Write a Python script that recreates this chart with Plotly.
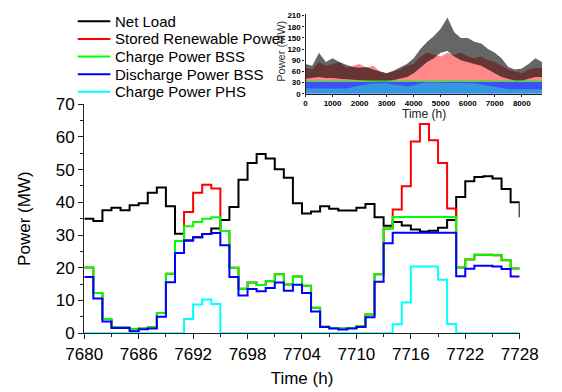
import plotly.graph_objects as go

# ---- main panel: hourly values, 7680 h .. 7728 h ----
hours = list(range(7680, 7729))

net_load = [35.0, 34.3, 37.6, 38.3, 37.6, 39.1, 39.7, 42.9, 44.5, 38.8,
            30.4, 28.3, 29.3, 30.3, 32.0, 34.6, 38.6, 46.9, 52.0, 54.8,
            53.4, 50.1, 47.5, 39.7, 36.6, 37.2, 38.8, 38.0, 37.5, 37.5,
            38.3, 39.5, 35.4, 32.8, 34.0, 32.9, 31.7, 31.1, 31.3, 32.2,
            34.6, 41.6, 46.4, 47.7, 48.0, 47.3, 44.1, 40.0, 35.4]

stored_renewable = [20.1, 12.3, 4.3, 1.8, 1.7, 1.2, 1.4, 1.8, 6.2, 18.2,
                    28.2, 37.0, 42.9, 45.4, 44.2, 31.2, 20.0, 13.6, 15.5, 14.7,
                    15.9, 18.0, 14.9, 17.3, 14.5, 7.8, 2.0, 1.6, 1.4, 1.6,
                    2.1, 5.7, 18.0, 32.0, 37.8, 44.9, 58.6, 63.9, 59.0, 52.0,
                    38.1, 20.1, 22.5, 24.0, 24.0, 23.8, 22.3, 19.8, 19.8]

charge_bss = [20.1, 12.3, 4.3, 1.8, 1.7, 1.2, 1.4, 1.8, 6.2, 18.2,
              28.2, 32.7, 34.0, 35.0, 35.4, 31.2, 20.0, 13.6, 15.5, 14.7,
              15.9, 18.0, 14.9, 17.3, 14.5, 7.8, 2.0, 1.6, 1.4, 1.6,
              2.1, 5.7, 18.0, 32.0, 35.5, 35.5, 35.5, 35.5, 35.5, 35.5,
              35.5, 20.1, 22.5, 24.0, 24.0, 23.8, 22.3, 19.8, 19.8]

discharge_bss = [17.2, 10.6, 3.6, 1.6, 1.6, 0.6, 1.2, 1.4, 5.0, 15.6,
                 24.5, 28.3, 29.3, 30.3, 30.6, 26.9, 17.2, 11.5, 13.5, 12.8,
                 13.8, 15.5, 13.0, 14.8, 12.3, 6.6, 1.9, 1.4, 1.1, 1.4,
                 1.9, 4.9, 15.7, 27.5, 30.7, 30.7, 30.7, 30.7, 30.7, 30.7,
                 30.7, 17.4, 19.7, 20.6, 20.6, 20.4, 19.6, 17.3, 17.3]

charge_phs = [0, 0, 0, 0, 0, 0, 0, 0, 0, 0,
              0, 4.3, 8.8, 10.3, 8.9, 0, 0, 0, 0, 0,
              0, 0, 0, 0, 0, 0, 0, 0, 0, 0,
              0, 0, 0, 0, 2.7, 9.4, 20.4, 20.4, 20.4, 16.3,
              2.8, 0, 0, 0, 0, 0, 0, 0, 0]

series_names = ["Net Load", "Stored Renewable Power", "Charge Power BSS",
                "Discharge Power BSS", "Charge Power PHS"]
series_colors = ["#000000", "#ff0000", "#00ff00", "#0000ff", "#00ffff"]

x_ticks = list(range(7680, 7729, 6))
y_ticks = list(range(0, 71, 10))

# ---- inset: yearly envelopes (min / max) every 250 h ----
year_hours = list(range(0, 8751, 250))
load_hi = [80, 75, 110, 85, 95, 85, 78, 72, 70, 72, 65, 60, 55, 62, 70, 80, 95, 120,
           140, 155, 175, 205, 165, 150, 150, 140, 135, 120, 110, 95, 72, 65, 68, 80, 95, 85]
load_lo = [40, 42, 45, 42, 42, 40, 38, 36, 35, 34, 33, 32, 32, 35, 40, 45, 55, 70,
           85, 95, 110, 115, 100, 90, 85, 80, 75, 65, 55, 45, 40, 35, 35, 40, 45, 45]
renew_hi = [70, 65, 85, 75, 80, 85, 70, 75, 80, 70, 75, 60, 55, 60, 65, 75, 80, 100,
            110, 105, 100, 110, 105, 110, 100, 95, 100, 90, 85, 75, 65, 60, 55, 65, 70, 70]
renew_lo = [33, 33, 33, 33, 33, 33, 33, 33, 33, 33, 33, 33, 33, 33, 33, 33, 33, 33,
            33, 33, 33, 33, 33, 33, 33, 33, 33, 33, 33, 33, 33, 33, 33, 33, 33, 33]
bss_hi = [32, 33, 32, 33, 32, 32, 33, 32, 32, 33, 32, 32, 31, 32, 33, 32, 33, 32,
          33, 32, 33, 32, 33, 32, 33, 32, 33, 32, 33, 32, 33, 32, 33, 32, 33, 32]
phs_hi = [14, 14, 12, 12, 12, 12, 14, 18, 22, 25, 28, 28, 28, 25, 22, 20, 22, 28,
          30, 30, 30, 30, 30, 30, 30, 28, 25, 22, 18, 15, 12, 12, 12, 12, 12, 12]
bss_cap = [34, 34, 34, 34, 34, 34, 34, 34, 34, 34, 34, 34, 34, 34, 34, 34, 34, 34,
           34, 34, 34, 34, 34, 34, 34, 34, 34, 34, 34, 34, 34, 34, 34, 34, 34, 34]
zeros = [0] * len(year_hours)
inset_x_ticks = list(range(0, 8001, 1000))
inset_y_ticks = list(range(0, 211, 30))

FONT = "Arial, Liberation Sans, sans-serif"
W, H = 562, 392

fig = go.Figure()

for name, vals, col in zip(series_names,
                           [net_load, stored_renewable, charge_bss, discharge_bss, charge_phs],
                           series_colors):
    fig.add_trace(go.Scatter(x=hours, y=vals, name=name, mode="lines",
                             line=dict(color=col, width=2, shape="hv"),
                             showlegend=False, xaxis="x", yaxis="y"))


def band(xs, hi, lo, color, opacity):
    return go.Scatter(x=xs + xs[::-1], y=hi + lo[::-1], fill="toself",
                      fillcolor=color, opacity=opacity, mode="lines",
                      line=dict(width=0, color=color), showlegend=False,
                      hoverinfo="skip", xaxis="x2", yaxis="y2")


fig.add_trace(band(year_hours, renew_hi, renew_lo, "#ff4848", 0.65))
fig.add_trace(band(year_hours, load_hi, load_lo, "#000000", 0.6))
fig.add_trace(band(year_hours, bss_hi, zeros, "#0a28f0", 0.8))
fig.add_trace(band(year_hours, phs_hi, zeros, "#30d0d0", 0.55))
fig.add_trace(go.Scatter(x=year_hours, y=bss_cap, mode="lines",
                         line=dict(color="#30e030", width=1.2), showlegend=False,
                         hoverinfo="skip", xaxis="x2", yaxis="y2"))


def px_x(p):
    return p / W


def px_y(p):
    return 1 - p / H


# legend drawn as short line samples with text labels
shapes = []
annotations = []
for i, (name, col) in enumerate(zip(series_names, series_colors)):
    yc = 13 + 18.5 * i
    shapes.append(dict(type="line", xref="paper", yref="paper",
                       x0=px_x(63), x1=px_x(98), y0=px_y(yc), y1=px_y(yc),
                       line=dict(color=col, width=2)))
    annotations.append(dict(text=name, xref="paper", yref="paper",
                            x=px_x(101), y=px_y(yc), xanchor="left", yanchor="middle",
                            showarrow=False, font=dict(size=15, family=FONT, color="#000")))

# inset axis titles
annotations.append(dict(text="Time (h)", xref="paper", yref="paper",
                        x=px_x(434), y=px_y(110), xanchor="center", yanchor="middle",
                        showarrow=False, font=dict(size=12, family=FONT, color="#222")))
annotations.append(dict(text="Power (MW)", xref="paper", yref="paper",
                        x=px_x(281), y=px_y(45), xanchor="center", yanchor="middle",
                        textangle=-90, showarrow=False,
                        font=dict(size=11, family=FONT, color="#333")))

axis_common = dict(showline=True, linecolor="#222", linewidth=1.3, ticks="outside",
                   tickcolor="#222", showgrid=False, zeroline=False, mirror=False)

fig.update_layout(
    width=W, height=H,
    margin=dict(l=0, r=0, t=0, b=0),
    paper_bgcolor="white", plot_bgcolor="rgba(0,0,0,0)",
    font=dict(family=FONT, color="#000"),
    shapes=shapes, annotations=annotations,
    xaxis=dict(domain=[px_x(70), px_x(537)], range=[7680, 7728],
               tickvals=x_ticks, ticklen=5, tickwidth=1.3,
               minor=dict(dtick=3, tick0=7680, ticklen=3, ticks="outside", tickcolor="#222"),
               tickfont=dict(size=17), anchor="y",
               title=dict(text="Time (h)", font=dict(size=17), standoff=9),
               **axis_common),
    yaxis=dict(domain=[px_y(340.7), px_y(100)], range=[0, 70],
               tickvals=y_ticks, ticklen=5, tickwidth=1.3,
               minor=dict(dtick=5, tick0=0, ticklen=3, ticks="outside", tickcolor="#222"),
               tickfont=dict(size=17), anchor="x",
               title=dict(text="Power (MW)", font=dict(size=17), standoff=20),
               **axis_common),
    xaxis2=dict(domain=[px_x(307.3), px_x(561.3)], range=[0, 8760],
                tickvals=inset_x_ticks, ticklen=2, tickwidth=1,
                tickfont=dict(size=8, weight="bold"), anchor="y2",
                **axis_common),
    yaxis2=dict(domain=[px_y(89), px_y(5)], range=[0, 215],
                tickvals=inset_y_ticks, ticklen=2, tickwidth=1,
                tickfont=dict(size=8, weight="bold"), anchor="x2",
                ticklabelstandoff=0,
                **axis_common),
)

fig.write_html("out.html")
